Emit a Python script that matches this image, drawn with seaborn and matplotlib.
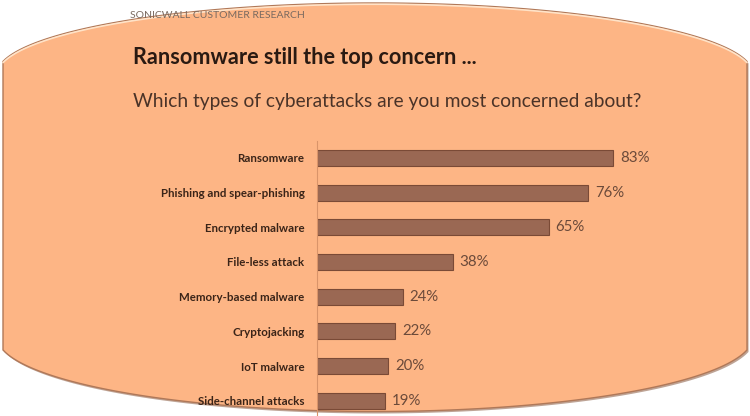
import numpy as np
import matplotlib
matplotlib.use("Agg")
import matplotlib.pyplot as plt
from matplotlib.patches import Polygon
import seaborn as sns
import pandas as pd

categories = ["Ransomware", "Phishing and spear-phishing", "Encrypted malware",
              "File-less attack", "Memory-based malware", "Cryptojacking",
              "IoT malware", "Side-channel attacks"]
values = [83, 76, 65, 38, 24, 22, 20, 19]

header = "SONICWALL CUSTOMER RESEARCH"
title = "Ransomware still the top concern ..."
subtitle = "Which types of cyberattacks are you most concerned about?"

sns.set_theme(style="white")
plt.rcParams['font.family'] = ['Lato', 'DejaVu Sans']

W, H = 750, 416
fig = plt.figure(figsize=(7.5, 4.16), dpi=100)
fig.patch.set_facecolor("white")

# background blob shape (pixel coords -> figure fraction)
xl, xr = 3, 747
xc = (xl + xr) / 2
a = 378
xs = np.linspace(xl, xr, 300)
s = np.sqrt(np.clip(1 - ((xs - xc) / a) ** 2, 0, 1))
top = 74 - 71 * s
bot = 336.7 + 74.8 * s
pts = [(x, y) for x, y in zip(xs, top)] + [(x, y) for x, y in zip(xs[::-1], bot[::-1])]
pts = np.array(pts)
frac = np.column_stack([pts[:, 0] / W, 1 - pts[:, 1] / H])

# shadow
shadow = Polygon(frac + np.array([1.5 / W, -2.0 / H]), closed=True, transform=fig.transFigure,
                 facecolor="#8a5a40", edgecolor="none", alpha=0.55, zorder=-3)
fig.add_artist(shadow)
blob = Polygon(frac, closed=True, transform=fig.transFigure,
               facecolor="#FDB585", edgecolor="#B07858", linewidth=1.0, zorder=-2)
fig.add_artist(blob)
# top highlight
topfrac = np.column_stack([xs / W, 1 - (top + 1.2) / H])
fig.add_artist(plt.Line2D(topfrac[:, 0], topfrac[:, 1], transform=fig.transFigure,
                          color="#FFE3C8", linewidth=1.2, zorder=-1))

fig.text(130 / W, 1 - 16 / H, header, fontsize=7.5, color="#7a6a60", va="center", ha="left")
fig.text(133 / W, 1 - 57 / H, title, fontsize=15.6, fontweight="bold", color="#2a1a12",
         va="center", ha="left")
fig.text(133 / W, 1 - 101 / H, subtitle, fontsize=13.8, color="#4a3328", va="center", ha="left")

# axes
ax_left, ax_right = 317, 740
ax_top, ax_bot = 140.6, 416
ax = fig.add_axes([ax_left / W, 1 - ax_bot / H, (ax_right - ax_left) / W, (ax_bot - ax_top) / H])
ax.patch.set_alpha(0)

df = pd.DataFrame({"cat": categories, "val": values})
sns.barplot(data=df, x="val", y="cat", orient="h", color="#9A6853", edgecolor="#7A4A36",
            linewidth=0.8, width=0.46, saturation=1, ax=ax)
ax.set_xlim(0, (ax_right - ax_left) / 3.566)
ax.set_ylim(7.44, -0.5)
for c in ax.containers:
    ax.bar_label(c, labels=[f"{v}%" for v in values], padding=5, fontsize=10.8, color="#6b4a3a")

ax.set_xlabel("")
ax.set_ylabel("")
ax.set_xticks([])
ax.tick_params(axis="y", length=0, pad=9)
for lab in ax.get_yticklabels():
    lab.set_fontsize(8.3)
    lab.set_fontweight("bold")
    lab.set_color("#3a2418")
for sp in ["top", "right", "bottom"]:
    ax.spines[sp].set_visible(False)
ax.spines["left"].set_color("#D9946A")
ax.spines["left"].set_linewidth(0.8)

fig.savefig("out.png", dpi=100)
